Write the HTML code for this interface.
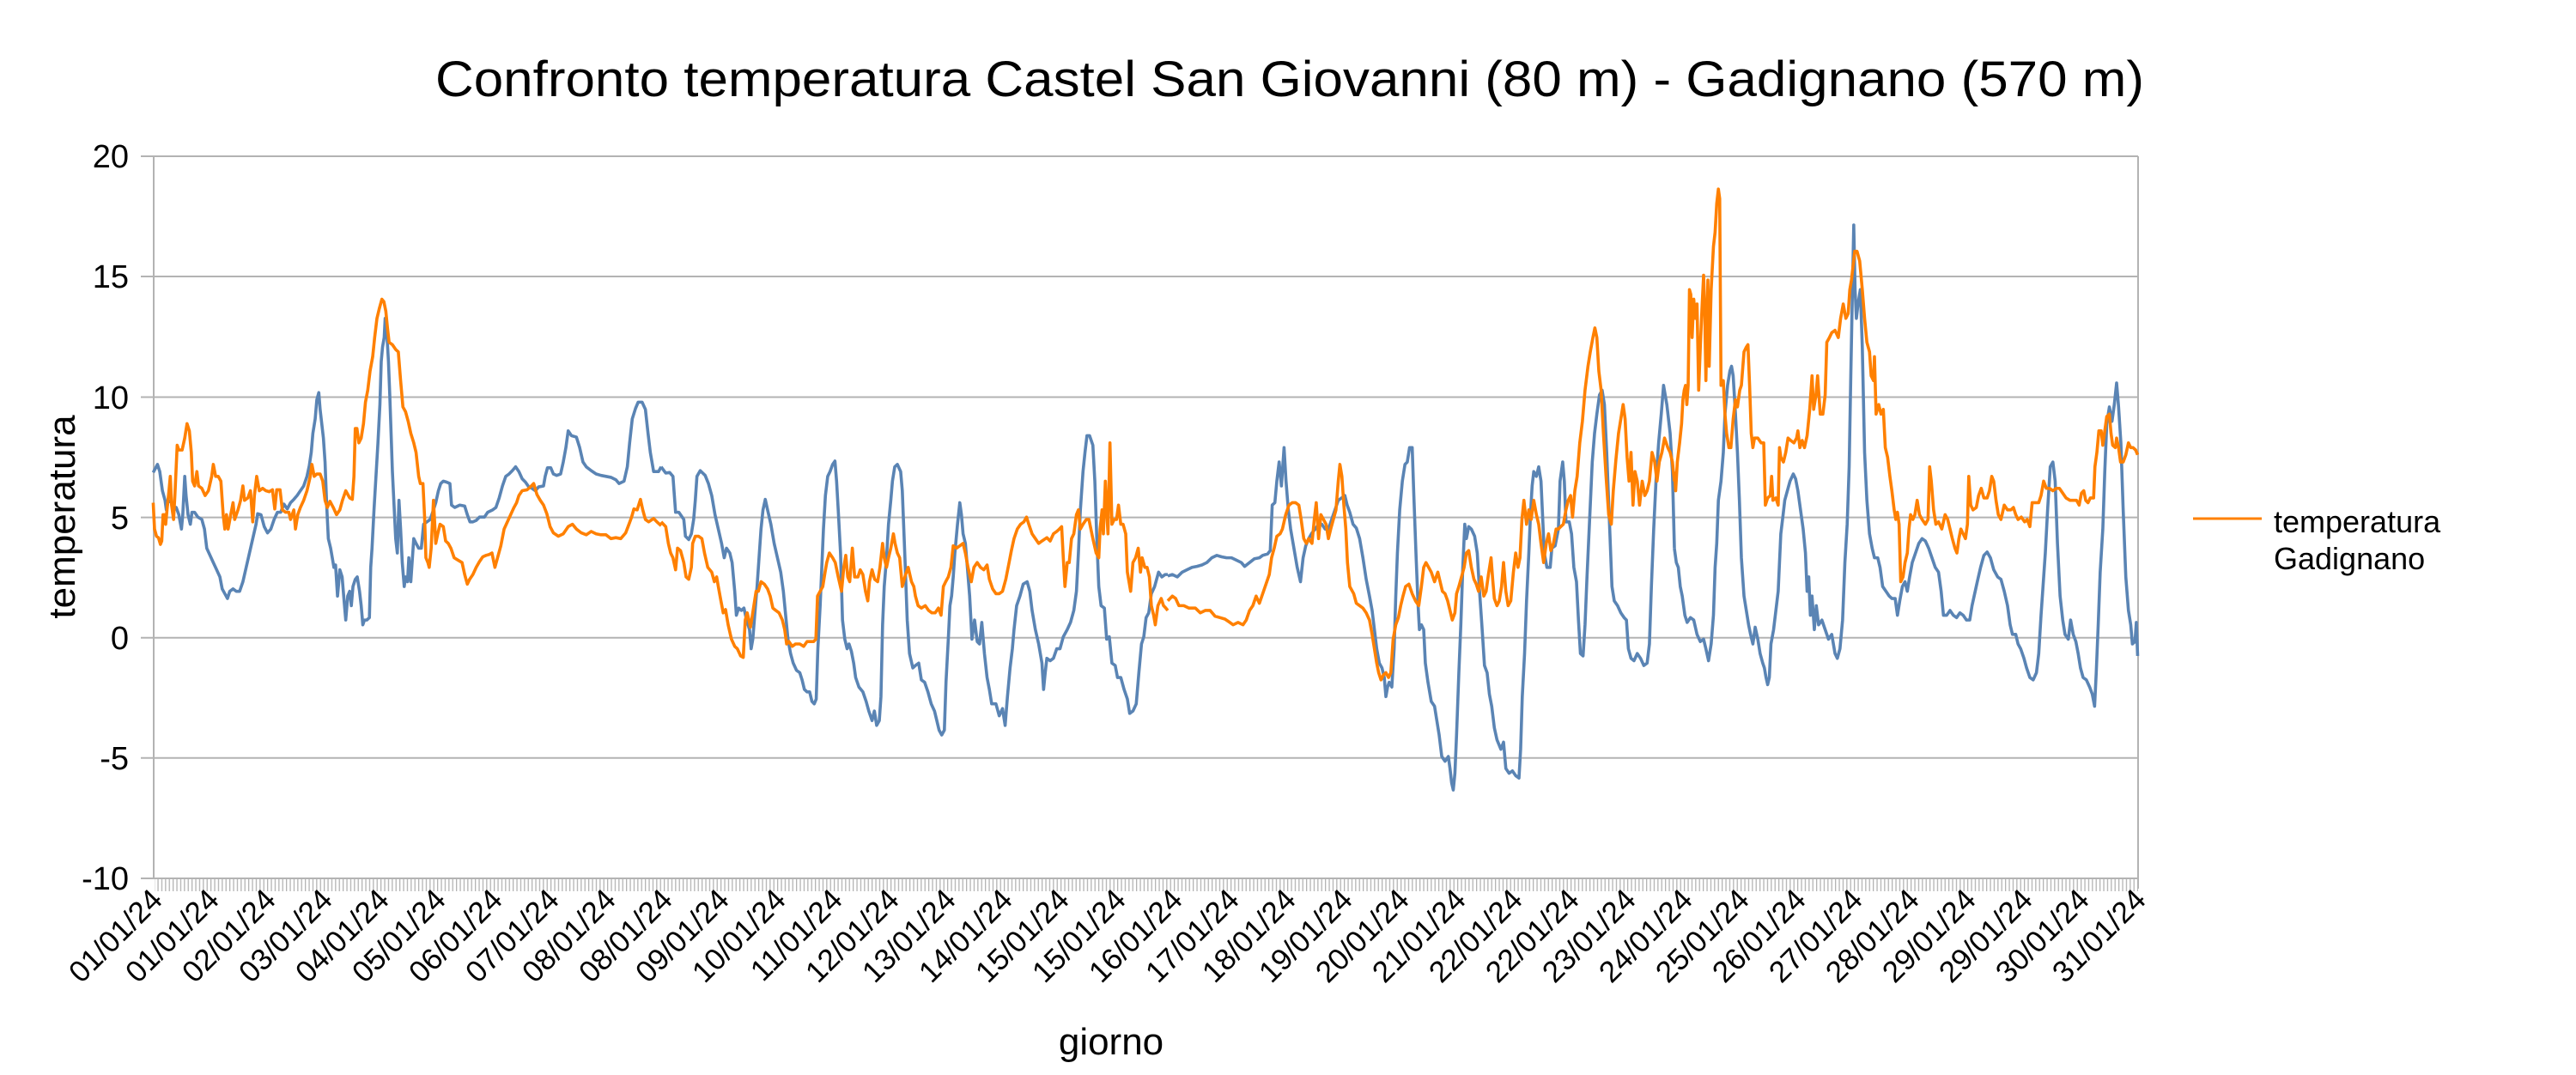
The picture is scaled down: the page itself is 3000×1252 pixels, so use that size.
<!DOCTYPE html>
<html><head><meta charset="utf-8"><style>
html,body{margin:0;padding:0;background:#fff;}
svg{display:block;font-family:"Liberation Sans",sans-serif;}
</style></head><body>
<svg width="3000" height="1252" viewBox="0 0 3000 1252" xmlns="http://www.w3.org/2000/svg">
<defs>
<pattern id="tk" x="179" y="1023" width="4.4" height="20" patternUnits="userSpaceOnUse">
<rect x="0" y="0" width="1.3" height="20" fill="#b3b3b3"/>
</pattern>
</defs>
<rect width="3000" height="1252" fill="#fff"/>
<text x="1502" y="112" font-size="58" text-anchor="middle" textLength="1990" lengthAdjust="spacingAndGlyphs">Confronto temperatura Castel San Giovanni (80 m) - Gadignano (570 m)</text>
<g stroke="#b3b3b3" stroke-width="2">
<line x1="164" y1="182" x2="2490" y2="182"/>
<line x1="164" y1="322" x2="2490" y2="322"/>
<line x1="164" y1="462.5" x2="2490" y2="462.5"/>
<line x1="164" y1="602.6" x2="2490" y2="602.6"/>
<line x1="164" y1="742.7" x2="2490" y2="742.7"/>
<line x1="164" y1="882.8" x2="2490" y2="882.8"/>
<line x1="164" y1="1023" x2="2490" y2="1023"/>
<line x1="179" y1="182" x2="179" y2="1023"/>
<line x1="2490" y1="182" x2="2490" y2="1035"/>
</g>
<rect x="180" y="1023" width="2310" height="15" fill="url(#tk)"/>
<g font-size="38" text-anchor="end">
<text x="150" y="195">20</text>
<text x="150" y="335">15</text>
<text x="150" y="476">10</text>
<text x="150" y="616">5</text>
<text x="150" y="756">0</text>
<text x="150" y="896">-5</text>
<text x="150" y="1036">-10</text>
</g>
<text transform="translate(87,602) rotate(-90)" font-size="44" text-anchor="middle">temperatura</text>
<text x="1294" y="1228" font-size="44" text-anchor="middle">giorno</text>
<line x1="2554" y1="604" x2="2634" y2="604" stroke="#ff8000" stroke-width="3"/>
<text x="2648" y="620" font-size="36">temperatura</text>
<text x="2648" y="663" font-size="36">Gadignano</text>
<g fill="none" stroke-linejoin="round">
<g transform="translate(170,170) scale(0.38265,0.55769)">
<polyline vector-effect="non-scaling-stroke" stroke="#5a84b4" stroke-width="3.6" points="22,682 35,665 42,680 50,720 58,740 62,760 68,740 78,745 85,760 92,755 100,770 108,800 112,770 118,690 122,730 128,770 135,790 140,765 148,765 158,775 170,780 178,800 185,840 195,855 205,870 215,885 225,900 232,925 240,935 248,945 255,930 265,925 275,930 285,930 295,910 305,880 315,850 325,820 335,790 340,768 350,770 360,795 370,808 380,800 390,780 400,765 410,765 420,748 430,758 440,745 450,738 460,730 470,720 480,710 490,690 497,668 503,640 508,600 515,570 520,530 526,515 530,550 535,580 540,610 545,660 550,750 555,820 562,840 567,860 572,880 577,875 583,940 590,885 597,900 603,950 608,990 614,940 620,930 625,960 630,920 637,905 643,900 650,930 655,960 660,1000 665,990 672,990 680,985 684,880 688,840 694,760 700,690 706,620 712,540 716,450 720,420 725,400 728,360 733,390 738,450 742,520 746,600 750,680 755,750 760,820 765,850 770,740 775,800 780,870 786,920 790,900 796,910 800,860 806,910 810,870 815,820 822,830 830,840 838,840 845,790 855,785 865,780 875,760 882,745 890,720 897,705 905,700 915,702 925,705 930,750 940,755 955,750 970,752 978,770 986,785 995,785 1005,782 1015,775 1030,775 1040,765 1055,760 1065,755 1075,735 1085,710 1095,690 1105,685 1115,678 1125,670 1135,680 1145,695 1155,702 1165,712 1175,715 1185,720 1195,712 1210,710 1215,690 1222,672 1232,672 1240,685 1250,688 1262,685 1270,660 1278,630 1285,595 1295,605 1310,608 1320,630 1330,660 1340,670 1355,678 1370,685 1385,688 1400,690 1415,692 1430,697 1440,705 1455,700 1465,670 1472,620 1480,570 1490,548 1498,535 1510,535 1520,550 1528,600 1535,640 1545,680 1560,680 1568,670"/>
<polyline vector-effect="non-scaling-stroke" stroke="#ff8000" stroke-width="3.6" points="22,745 26,800 32,815 38,818 44,832 48,825 52,770 56,770 60,790 64,760 70,720 74,690 78,750 84,780 88,730 95,625 100,635 110,635 118,610 125,580 132,595 138,640 142,700 148,710 155,680 160,710 170,715 180,730 190,720 200,690 205,665 212,690 220,690 228,700 235,770 240,800 245,770 250,800 258,770 265,745 270,780 280,760 288,740 295,710 300,740 310,735 318,720 325,785 330,730 337,690 345,720 355,715 365,720 375,722 385,718 392,758 398,718 408,718 415,760 425,765 435,765 440,780 450,760 455,800 462,770 470,755 480,740 490,720 500,690 505,665 512,690 520,685 530,685 538,700 545,740 552,755 560,742 570,755 580,770 590,760 598,740 608,720 620,735 628,738 633,690 637,590 642,590 648,620 655,610 662,580 668,535 675,510 682,470 690,440 696,400 703,360 710,340 718,320 724,325 730,345 735,380 740,410 750,415 760,425 768,430 775,490 782,545 790,555 798,575 806,600 815,620 822,640 830,690 835,705 843,705 848,775 852,860 858,870 862,880 868,840 875,740 882,830 888,810 895,790 905,795 912,825 920,830 928,840 938,860 950,865 962,870 970,895 978,915 985,905 995,895 1005,880 1015,868 1025,858 1035,855 1045,853 1053,850 1062,880 1070,860 1080,835 1090,800 1100,785 1110,770 1120,755 1128,745 1135,730 1145,720 1160,718 1170,712 1180,705 1190,728 1200,740 1210,750 1220,768 1230,795 1240,808 1255,815 1270,810 1285,795 1298,790 1310,800 1325,808 1340,812 1355,805 1370,810 1385,812 1400,812 1415,820 1430,818 1445,820 1460,808 1470,790 1478,775 1485,758 1495,760 1505,738 1512,760 1520,780 1530,785 1545,778 1555,785 1568,793"/>
</g>
<g transform="translate(760,170) scale(0.38265,0.55769)">
<polyline vector-effect="non-scaling-stroke" stroke="#5a84b4" stroke-width="3.6" points="26,670 40,683 52,682 62,690 70,765 80,765 95,780 100,815 110,822 118,810 125,780 130,740 135,690 145,678 160,688 170,705 180,730 190,770 200,800 210,830 218,860 225,840 235,850 242,870 250,930 255,980 262,965 270,970 278,965 286,990 295,1010 300,1050 305,1030 312,970 318,920 324,860 330,800 336,760 343,738 350,760 360,790 370,830 380,860 390,890 398,930 405,980 412,1030 420,1060 428,1080 438,1095 448,1100 455,1115 462,1135 470,1140 478,1140 485,1160 492,1165 498,1155 503,1050 510,960 515,880 520,800 526,730 533,690 540,680 548,665 555,658 560,700 565,760 572,850 578,990 585,1030 592,1050 598,1040 605,1055 612,1080 618,1110 628,1130 640,1140 650,1160 658,1180 668,1200 675,1180 682,1210 690,1200 695,1150 700,1000 705,920 712,860 718,790 725,740 730,700 737,670 745,665 755,680 760,720 768,860 775,990 782,1060 792,1090 800,1085 810,1080 818,1115 828,1120 838,1140 848,1165 858,1180 865,1200 872,1220 880,1230 888,1220 893,1120 900,1030 905,960 910,940 915,900 920,850 928,790 935,745 940,770 945,810 952,830 958,880 965,940 972,1030 980,990 988,1035 995,1040 1002,995 1010,1060 1018,1110 1025,1135 1032,1165 1045,1165 1055,1190 1065,1175 1073,1210 1080,1150 1088,1090 1095,1050 1100,1010 1108,960 1118,940 1128,915 1140,910 1148,930 1155,970 1165,1010 1175,1040 1185,1080 1190,1135 1195,1100 1200,1070 1210,1075 1220,1070 1230,1050 1240,1050 1250,1025 1262,1010 1272,995 1282,970 1290,930 1296,850 1302,760 1310,680 1316,640 1322,605 1330,605 1340,625 1346,700 1352,820 1358,920 1365,960 1375,965 1382,1030 1390,1025 1398,1080 1408,1085 1415,1110 1425,1110 1435,1135 1445,1155 1452,1185 1462,1180 1472,1165 1480,1100 1488,1040 1495,1025 1502,985 1510,975 1518,935 1528,920 1540,890 1550,900 1560,895 1568,895"/>
<polyline vector-effect="non-scaling-stroke" stroke="#ff8000" stroke-width="3.6" points="26,785 40,795 48,830 55,850 62,860 70,885 76,840 85,845 95,870 102,900 110,905 118,880 122,830 130,815 140,815 150,820 158,850 168,880 180,890 188,910 195,900 200,920 208,950 215,975 222,968 230,1000 240,1030 250,1045 258,1050 268,1065 276,1068 282,990 288,975 298,1005 306,970 315,930 322,930 330,910 340,915 350,925 358,940 366,965 375,970 385,975 395,990 402,1010 408,1040 415,1035 425,1045 435,1040 448,1040 460,1045 470,1035 480,1035 490,1035 497,1030 502,940 510,930 518,920 525,890 530,870 538,850 548,860 556,870 565,900 575,930 582,880 588,855 594,900 600,910 608,840 615,900 625,900 632,885 640,895 648,930 655,950 660,910 668,885 676,905 685,910 692,880 700,830 705,860 712,880 718,860 725,840 733,810 738,830 745,850 752,860 760,920 770,895 778,880 788,910 795,920 800,940 808,960 818,965 830,960 840,970 850,975 860,975 870,965 878,980 885,920 892,910 900,900 908,880 915,835 925,840 935,835 945,830 952,850 960,880 970,910 978,880 988,870 998,880 1008,885 1018,875 1025,905 1035,925 1045,935 1055,935 1065,930 1075,905 1085,870 1092,845 1100,820 1110,800 1120,790 1130,785 1138,775 1145,790 1155,810 1165,820 1175,830 1185,825 1200,818 1210,825 1220,810 1230,805 1238,800 1245,795 1250,860 1255,920 1262,870 1268,870 1275,820 1282,810 1290,770 1296,760 1302,800 1310,790 1320,780 1328,780 1340,820 1350,850 1358,860 1362,800 1368,760 1372,810 1378,700 1382,760 1386,810 1392,620 1398,790 1405,780 1412,780 1418,750 1425,790 1432,790 1440,810 1445,890 1455,930 1462,870 1470,860 1478,840 1485,890 1490,860 1498,880 1505,880 1512,900 1518,960 1525,980 1530,1000 1538,960 1548,945 1555,960 1562,965 1568,970"/>
</g>
<g transform="translate(1350,170) scale(0.38265,0.55769)">
<polyline vector-effect="non-scaling-stroke" stroke="#5a84b4" stroke-width="3.6" points="26,898 40,895 55,900 70,890 85,885 100,880 115,878 130,875 145,870 160,860 175,855 190,858 205,860 220,860 235,865 250,870 260,878 275,870 290,862 305,860 315,855 330,852 338,845 344,750 352,745 358,700 365,660 372,710 380,630 386,700 393,760 400,800 410,840 420,880 430,910 438,860 446,835 455,820 465,808 475,800 485,790 495,790 505,800 515,800 525,780 535,760 545,740 555,735 565,730 572,750 580,765 590,790 600,798 610,820 620,860 630,905 640,940 648,970 655,1010 662,1050 670,1080 678,1090 685,1110 690,1150 695,1130 700,1120 708,1130 715,1050 720,940 725,850 732,760 740,700 748,665 755,660 762,630 770,630 775,730 782,860 788,960 792,1010 798,1000 805,1010 810,1080 818,1120 828,1160 838,1170 845,1200 852,1230 860,1275 870,1285 880,1275 885,1300 890,1330 895,1345 900,1310 905,1230 912,1100 918,1000 924,880 930,790 935,820 942,795 950,800 960,815 968,850 975,930 982,1000 990,1085 998,1100 1005,1145 1012,1170 1020,1215 1028,1240 1040,1260 1048,1245 1055,1300 1065,1310 1075,1305 1085,1315 1095,1320 1100,1260 1105,1150 1112,1060 1118,950 1125,850 1130,770 1135,710 1140,680 1148,690 1155,670 1162,700 1168,790 1172,850 1180,880 1190,880 1195,840 1205,835 1215,800 1220,700 1228,660 1233,700 1238,785 1248,785 1255,810 1262,880 1270,910 1276,990 1282,1060 1290,1065 1296,1000 1302,900 1310,780 1318,660 1325,600 1332,560 1340,520 1348,510 1355,540 1362,640 1370,780 1378,920 1385,950 1395,960 1405,975 1415,985 1422,990 1428,1050 1436,1070 1445,1075 1455,1060 1465,1070 1475,1085 1485,1080 1492,1040 1498,920 1505,800 1512,700 1520,620 1528,560 1535,500 1545,540 1555,600 1562,680 1568,840"/>
<polyline vector-effect="non-scaling-stroke" stroke="#ff8000" stroke-width="3.6" points="26,950 40,940 50,945 60,960 75,960 90,965 110,965 125,975 140,970 155,970 170,982 185,985 200,988 215,995 225,1000 240,995 255,1000 265,990 275,970 285,960 295,940 305,955 315,935 325,915 335,895 342,860 350,840 358,815 368,810 375,800 385,770 395,750 405,745 415,745 425,750 432,780 440,820 448,830 455,820 465,830 472,780 478,745 485,820 492,770 500,780 508,790 515,820 522,800 530,780 538,760 545,700 550,665 556,690 562,750 568,800 573,870 580,920 592,935 600,955 610,960 620,965 630,975 640,990 648,1020 655,1050 662,1080 668,1100 675,1115 682,1105 690,1100 698,1110 705,1100 712,1030 720,1000 728,985 735,960 742,940 750,920 760,915 770,935 780,950 790,960 798,920 805,880 812,870 820,880 828,890 838,910 848,890 855,910 862,930 870,935 878,950 885,970 892,990 900,975 905,935 912,920 920,900 928,880 935,850 942,845 950,880 958,905 965,915 972,930 980,900 988,940 995,930 1002,895 1010,860 1015,905 1020,945 1028,960 1035,950 1042,920 1048,870 1055,930 1062,960 1070,950 1078,890 1085,850 1092,880 1098,860 1104,780 1110,740 1118,790 1125,760 1132,780 1140,740 1148,770 1155,790 1162,830 1170,870 1178,830 1185,810 1192,845 1200,830 1208,800 1215,800 1222,795 1230,790 1238,760 1245,740 1252,730 1258,775 1265,720 1272,690 1280,620 1288,575 1296,510 1305,460 1312,430 1320,400 1326,380 1332,400 1338,470 1345,510 1352,600 1360,690 1368,770 1376,790 1382,720 1390,655 1398,600 1405,570 1412,540 1418,570 1424,650 1430,700 1436,640 1442,750 1448,680 1455,700 1462,750 1470,700 1478,730 1485,720 1492,700 1500,640 1508,660 1515,700 1522,660 1530,640 1538,610 1548,630 1555,640 1562,660 1568,700"/>
</g>
<g transform="translate(1940,170) scale(0.38265,0.55769)">
<polyline vector-effect="non-scaling-stroke" stroke="#5a84b4" stroke-width="3.6" points="26,840 32,870 38,880 44,920 50,940 58,980 65,995 75,985 85,990 95,1020 105,1035 115,1030 122,1050 130,1075 138,1040 145,980 150,880 155,830 160,740 168,700 175,640 180,560 188,500 195,470 200,460 205,480 212,560 218,640 224,740 230,860 238,940 245,970 252,1000 258,1020 265,1040 272,1005 280,1030 287,1060 295,1080 300,1090 305,1110 310,1125 315,1110 320,1040 328,1010 335,970 342,930 350,810 357,770 362,740 370,720 378,700 388,685 395,695 402,720 410,760 418,800 425,850 430,930 435,900 440,980 445,940 452,1010 458,960 465,1000 475,990 485,1010 495,1030 505,1020 515,1060 522,1070 530,1050 538,990 545,870 552,790 558,670 563,480 568,300 572,165 576,300 580,360 585,330 592,300 598,420 605,640 612,740 620,810 628,840 635,860 645,860 652,880 660,920 670,930 680,940 688,945 698,945 705,980 712,950 720,920 728,910 735,930 742,900 750,870 760,850 770,830 780,820 790,825 800,840 810,860 820,880 830,890 838,930 845,980 855,980 865,970 875,980 885,985 895,975 905,980 915,990 925,990 932,960 940,935 948,910 958,880 968,855 978,848 988,860 998,885 1010,900 1020,905 1030,930 1040,960 1048,1000 1055,1020 1065,1020 1072,1040 1080,1050 1090,1070 1098,1090 1108,1110 1118,1115 1128,1100 1135,1060 1142,980 1148,920 1155,850 1162,760 1170,670 1178,660 1185,700 1192,830 1200,940 1208,990 1215,1020 1225,1030 1232,990 1240,1020 1248,1035 1255,1060 1262,1090 1270,1110 1280,1115 1290,1130 1298,1145 1305,1170 1310,1100 1316,1000 1322,890 1330,800 1336,680 1342,580 1350,545 1358,575 1365,540 1372,495 1378,545 1385,620 1392,760 1400,900 1408,970 1415,1000 1420,1040 1428,1035 1432,995 1436,1065"/>
<polyline vector-effect="non-scaling-stroke" stroke="#ff8000" stroke-width="3.6" points="26,680 30,720 35,660 42,620 48,580 52,530 56,510 60,500 64,540 68,500 72,300 76,310 80,400 85,320 90,360 95,330 100,510 105,420 110,340 115,270 118,330 122,490 128,280 132,460 138,300 145,210 150,180 155,120 160,90 164,110 168,500 175,490 180,560 185,600 192,630 198,630 205,570 212,530 218,545 225,510 230,500 238,430 245,420 250,415 255,500 260,600 265,630 270,610 280,610 290,620 298,620 303,750 310,735 318,730 322,690 326,740 335,735 342,750 346,630 350,650 358,660 365,640 372,610 380,615 390,620 398,610 402,595 408,630 415,615 422,630 430,605 438,550 445,480 450,550 457,520 462,480 470,560 478,560 485,520 490,410 498,400 505,390 515,385 525,400 532,360 540,330 548,360 555,350 560,300 565,280 570,250 575,220 582,220 590,240 598,300 605,360 612,410 620,430 625,480 632,490 635,440 640,560 648,540 655,560 662,550 668,630 675,650 682,690 688,720 695,760 700,780 705,765 710,790 715,910 722,900 728,870 735,850 740,800 745,770 752,780 758,770 765,740 772,770 780,780 790,790 798,780 803,670 808,700 815,760 822,790 830,785 840,800 850,770 858,780 865,800 872,820 880,840 886,850 892,820 898,800 905,810 912,820 918,790 922,690 928,750 935,760 945,755 952,730 960,715 968,735 978,735 985,720 992,690 998,700 1005,740 1012,770 1020,780 1030,750 1040,760 1050,760 1058,755 1065,770 1072,780 1082,775 1092,785 1100,780 1108,795 1115,745 1125,745 1135,745 1142,730 1150,700 1158,715 1168,715 1178,720 1188,715 1198,715 1208,725 1218,735 1230,740 1240,740 1250,740 1258,750 1265,725 1272,720 1278,740 1285,745 1292,735 1302,735 1306,670 1312,640 1318,595 1325,595 1330,625 1335,600 1342,565 1350,560 1355,600 1360,625 1368,630 1372,610 1378,630 1384,660 1392,660 1400,645 1408,620 1415,630 1422,630 1430,635 1436,645"/>
</g>
</g>
<g font-size="35" text-anchor="end">
<text transform="translate(191,1050) rotate(-45)">01/01/24</text>
<text transform="translate(257,1050) rotate(-45)">01/01/24</text>
<text transform="translate(323,1050) rotate(-45)">02/01/24</text>
<text transform="translate(389,1050) rotate(-45)">03/01/24</text>
<text transform="translate(455,1050) rotate(-45)">04/01/24</text>
<text transform="translate(521,1050) rotate(-45)">05/01/24</text>
<text transform="translate(587,1050) rotate(-45)">06/01/24</text>
<text transform="translate(653,1050) rotate(-45)">07/01/24</text>
<text transform="translate(719,1050) rotate(-45)">08/01/24</text>
<text transform="translate(785,1050) rotate(-45)">08/01/24</text>
<text transform="translate(851,1050) rotate(-45)">09/01/24</text>
<text transform="translate(917,1050) rotate(-45)">10/01/24</text>
<text transform="translate(983,1050) rotate(-45)">11/01/24</text>
<text transform="translate(1049,1050) rotate(-45)">12/01/24</text>
<text transform="translate(1115,1050) rotate(-45)">13/01/24</text>
<text transform="translate(1181,1050) rotate(-45)">14/01/24</text>
<text transform="translate(1247,1050) rotate(-45)">15/01/24</text>
<text transform="translate(1313,1050) rotate(-45)">15/01/24</text>
<text transform="translate(1379,1050) rotate(-45)">16/01/24</text>
<text transform="translate(1445,1050) rotate(-45)">17/01/24</text>
<text transform="translate(1511,1050) rotate(-45)">18/01/24</text>
<text transform="translate(1577,1050) rotate(-45)">19/01/24</text>
<text transform="translate(1643,1050) rotate(-45)">20/01/24</text>
<text transform="translate(1709,1050) rotate(-45)">21/01/24</text>
<text transform="translate(1775,1050) rotate(-45)">22/01/24</text>
<text transform="translate(1841,1050) rotate(-45)">22/01/24</text>
<text transform="translate(1907,1050) rotate(-45)">23/01/24</text>
<text transform="translate(1973,1050) rotate(-45)">24/01/24</text>
<text transform="translate(2039,1050) rotate(-45)">25/01/24</text>
<text transform="translate(2105,1050) rotate(-45)">26/01/24</text>
<text transform="translate(2171,1050) rotate(-45)">27/01/24</text>
<text transform="translate(2237,1050) rotate(-45)">28/01/24</text>
<text transform="translate(2303,1050) rotate(-45)">29/01/24</text>
<text transform="translate(2369,1050) rotate(-45)">29/01/24</text>
<text transform="translate(2435,1050) rotate(-45)">30/01/24</text>
<text transform="translate(2501,1050) rotate(-45)">31/01/24</text>
</g>
</svg>
</body></html>
